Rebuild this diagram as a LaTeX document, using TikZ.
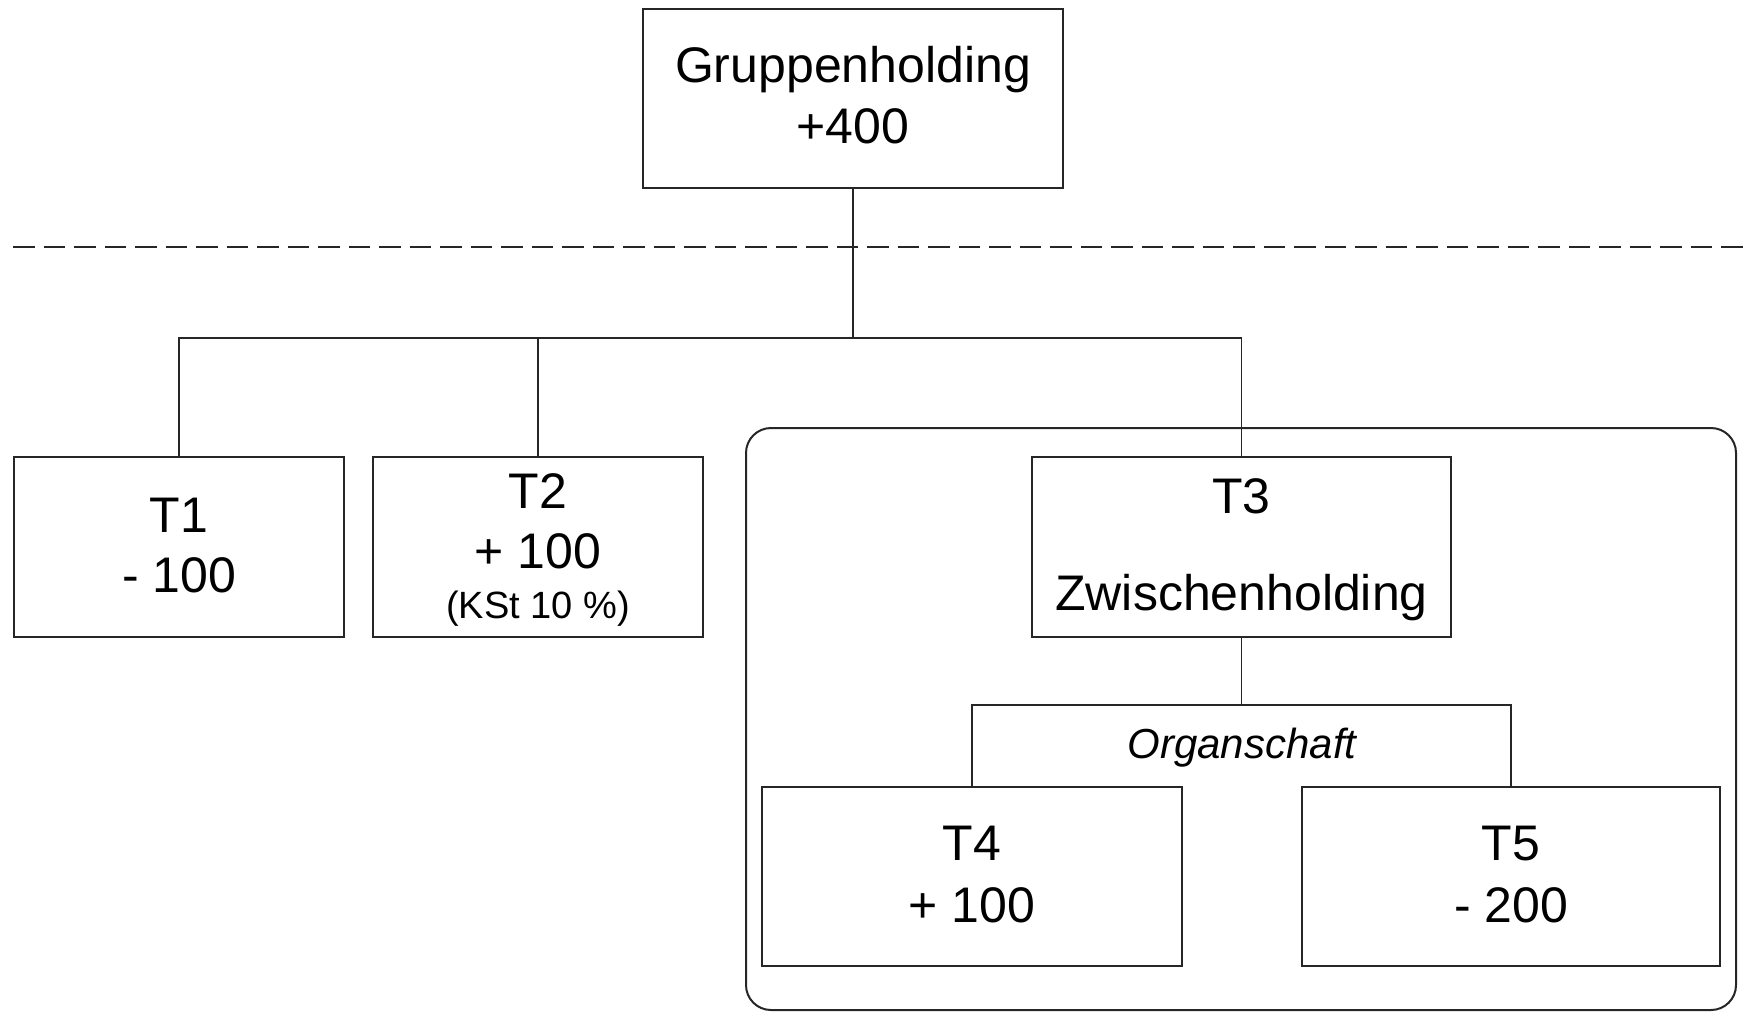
\documentclass[tikz,border=0pt]{standalone}
\usepackage{fontspec}
\setmainfont{Liberation Sans}
\begin{document}
\begin{tikzpicture}[x=0.5pt,y=-0.5pt,
  box/.style={draw=black!85,line width=1pt,inner sep=0pt,fill=white},
  conn/.style={draw=black!85,line width=0.75pt},
  big/.style={anchor=base,inner sep=0pt,font=\fontsize{25}{30}\selectfont},
  small/.style={anchor=base,inner sep=0pt,font=\fontsize{19}{22}\selectfont},
  org/.style={anchor=base,inner sep=0pt,font=\fontsize{21}{25}\selectfont\itshape}]
\useasboundingbox (0,0) rectangle (1743,1012);
% dashed separation line
\coordinate (dl) at (13,247);
\coordinate (dr) at (1743,247);
\draw[black!85,line width=1pt,dash pattern=on 10.85pt off 4.4pt] (dl) -- (dr);
% Organschaft group frame
\draw[black!85,line width=1pt,rounded corners=12.5pt] (746,428) rectangle (1736,1010);
% boxes
\node[box,minimum width=210pt,minimum height=89.5pt] (g) at (853,98.5) {};
\node[box,minimum width=165pt,minimum height=90pt] (t1) at (179,547) {};
\node[box,minimum width=165pt,minimum height=90pt] (t2) at (538,547) {};
\node[box,minimum width=209.5pt,minimum height=90pt] (t3) at (1241.5,547) {};
\node[box,minimum width=210pt,minimum height=89.5pt] (t4) at (972,876.5) {};
\node[box,minimum width=209pt,minimum height=89.5pt] (t5) at (1511,876.5) {};
% connectors
\coordinate (bus) at (853,338);
\coordinate (obus) at (1241.5,705);
\draw[conn] (g.south) -- (bus);
\draw[conn] (t1.north) |- (bus) -| (t3.north);
\draw[conn] (t2.north) -- (t2.north |- bus);
\draw[conn] (t3.south) -- (obus);
\draw[conn] (t4.north) |- (obus) -| (t5.north);
% texts
\node[big] (ga) at (853,82) {Gruppenholding};
\node[big] (gb) at (853,143) {+400};
\node[big] (t1a) at (179,532) {T1};
\node[big] (t1b) at (179,592) {- 100};
\node[big] (t2a) at (538,508) {T2};
\node[big] (t2b) at (538,568) {+ 100};
\node[small] (t2c) at (538,618) {(KSt 10 \%)};
\node[big] (t3a) at (1241.5,513) {T3};
\node[big] (t3b) at (1241.5,610) {Zwischenholding};
\node[org] (orgl) at (1242,758) {Organschaft};
\node[big] (t4a) at (972,860) {T4};
\node[big] (t4b) at (972,922) {+ 100};
\node[big] (t5a) at (1511,860) {T5};
\node[big] (t5b) at (1511,922) {- 200};
\end{tikzpicture}
\end{document}
